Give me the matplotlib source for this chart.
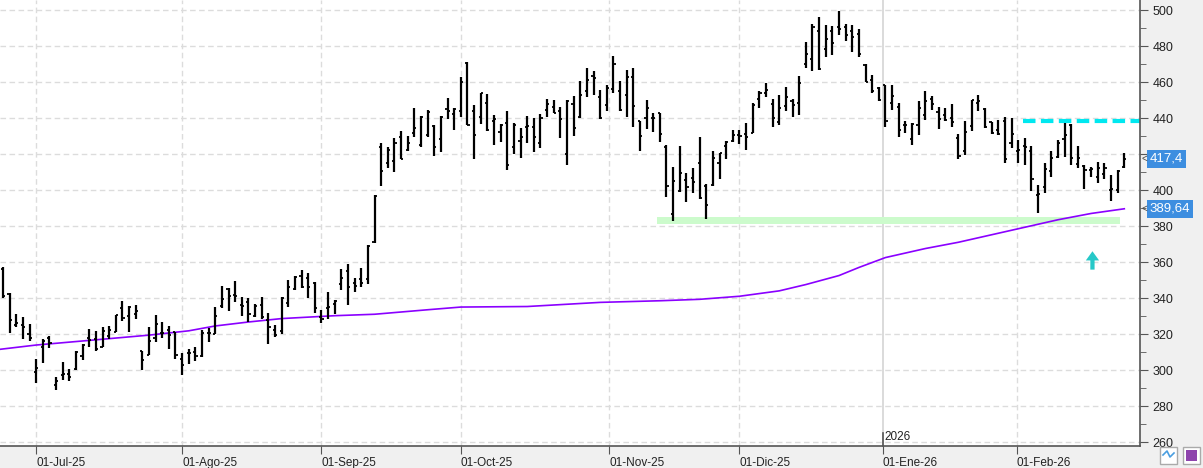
import matplotlib
matplotlib.use('Agg')
import matplotlib.pyplot as plt
from matplotlib.patches import Rectangle, Polygon
import numpy as np

# daily OHLC, one entry per bar (bar 1 = late June 2025 ... bar 170 = late Feb 2026)
opens = [356, 342, 325, 325, 320, 299, 313, 318, 291.5, 297, 297.6, 300.4, 308, 317.6, 317, 312.6, 319, 321.3, 334.4, 329.8,
         331, 310.6, 308.5, 318, 320.4, 322, 321, 306, 309.3, 310, 308, 320.4, 320, 335.6, 345, 341.7, 336, 337.8, 330, 336,
         327.8, 322, 321.5, 337, 345, 352.2, 350.9, 348.5, 329.3, 334.6, 336.5, 348, 355.2, 348.5, 350.4, 350.4, 371, 423.7, 414.8, 416,
         429.3, 422.2, 431.5, 425.2, 430.4, 435.6, 428.1, 444.8, 442.2, 444.1, 470.4, 443.7, 440.7, 448.1, 438.1, 432, 437, 423.7, 427.4, 435.2,
         434.8, 425.9, 444.3, 446.1, 443.9, 420, 447.6, 440.4, 454.8, 463.3, 451.5, 447, 456.3, 454.8, 452.8, 462.6, 438.3, 439.8, 439.8, 443,
         424.1, 386.7, 399.4, 405.6, 406.8, 414.8, 402.2, 402.8, 414.8, 424.4, 427.2, 430.6, 431.1, 431.9, 450.4, 453.7, 447.6, 437.8, 446.7, 449.3,
         448.2, 469.8, 472.8, 488.5, 478.2, 488.5, 490.4, 490.4, 488.5, 486.5, 469.5, 461.1, 456.5, 458.2, 448.2, 445.9, 436.1, 428.5, 435.9, 441.5,
         450.4, 443.3, 441.5, 440.2, 429.1, 421.5, 435.6, 448.1, 445.2, 437.6, 433.3, 438.1, 425.9, 421.8, 424.4, 421.7, 397.2, 401.5, 410.6, 418.1,
         428.1, 436.1, 414.4, 413.3, 411.1, 407.4, 408.9, 400, 400, 412.6]
highs = [357, 343, 331, 329.3, 325.6, 306, 317, 319, 296.3, 304.3, 300.6, 310.6, 314.3, 322.6, 321.7, 323.9, 324.3, 330.7, 338.3, 335.6,
         336, 310.6, 323.7, 330.4, 326.7, 324.4, 321.1, 309.3, 311.9, 313, 322.2, 323.1, 335.2, 346.7, 345.6, 349.6, 340.6, 339.8, 336.7, 340.6,
         331.9, 325, 340.6, 350, 352.2, 355.6, 353.7, 348.9, 333.3, 343.3, 338.9, 355.9, 358.9, 350.9, 356.5, 369.4, 397.2, 426, 423.7, 428.7,
         432.8, 430, 445.6, 441.1, 444.4, 436.1, 441.1, 451.1, 445.6, 462.6, 471.1, 447, 454.1, 453.3, 441.5, 436.7, 444.1, 437, 434.4, 441.1,
         440, 442.2, 450.4, 450, 446.3, 450, 452.2, 460.6, 467.8, 466.1, 455.6, 458.5, 474.6, 460.6, 466.7, 467.6, 438.3, 450, 443, 443,
         424.8, 413, 424.4, 409.3, 412.4, 429.4, 403.3, 421.7, 420.7, 427.2, 433.3, 433.3, 437, 448.2, 455.2, 459.3, 450.4, 452.6, 457, 450.4,
         463.3, 482.2, 492.2, 496.3, 491.7, 491.1, 499.4, 492.2, 491.7, 489.3, 469.8, 463.7, 457, 458.5, 458.3, 448.5, 438.5, 437, 449.3, 455.2,
         452.2, 445.9, 445.7, 447.8, 430.9, 438.3, 450, 452.8, 445.6, 438, 438.9, 440.7, 440.2, 427.8, 428.9, 424.4, 402.6, 414.8, 421.9, 427.8,
         437, 436.7, 424.4, 413.9, 412.6, 415.7, 414.8, 408.3, 411.1, 420.7]
lows = [340, 320.5, 323.7, 317.4, 316.3, 293, 303.7, 312.4, 288.7, 294.4, 293.7, 300, 305.7, 312.6, 310.4, 312.6, 317, 321.3, 327, 321.3,
        328.5, 300, 308.2, 315.7, 318, 311.5, 305.9, 297.4, 303.1, 305, 307, 315.7, 320, 334.3, 333, 338, 330.2, 326.9, 329.6, 328.1,
        314.4, 318.5, 319.8, 335.2, 344.4, 345.7, 340.2, 331.9, 325.9, 328.5, 331.1, 344.4, 336.3, 343.5, 345.9, 347.6, 370.5, 402.4, 412, 409.8,
        417, 421.9, 429.3, 424.1, 429.3, 419.1, 421.3, 439.6, 433.1, 440.7, 435.9, 417, 436.7, 432.8, 425.2, 426.5, 411.1, 419.8, 418, 426.3,
        421.1, 423.5, 440.7, 442.6, 429.1, 414.1, 430.2, 439.8, 451.9, 452.9, 439.6, 444.1, 454.1, 444.1, 440.7, 435.2, 421.8, 433.7, 432.4, 426.9,
        396.3, 383, 399.1, 393.5, 398.5, 394.8, 384.1, 402.4, 406.3, 417, 426.7, 425.4, 422.2, 431.5, 445.7, 451.9, 435.2, 436, 443.7, 440.7,
        441.7, 467.8, 466.3, 466.7, 473.7, 475.2, 485.9, 482.8, 476.9, 474.1, 459.8, 454.1, 449.6, 435.2, 444.4, 429.3, 431.5, 424.8, 430.7, 438.9,
        444.4, 433.9, 438.1, 435.2, 417.4, 419.6, 433, 444.1, 434.6, 430.9, 430.6, 414.8, 423.2, 414.8, 413.7, 399.3, 387.4, 398.1, 407.4, 417.6,
        418.5, 413.9, 412, 400.7, 407.4, 404.1, 405.9, 394.1, 398.1, 412.2]
closes = [341, 328, 326, 324, 318, 301, 316, 315, 294, 298, 296, 310, 314, 316.7, 311.5, 321.7, 322, 330.4, 329, 334.8,
          333, 305.6, 316.3, 325.6, 320.7, 319.3, 308.2, 302.6, 309.3, 308, 320.4, 320.4, 330, 339.6, 341.1, 341.1, 335.6, 331.1, 335.6, 329.6,
          324, 319.4, 340.2, 346.3, 351.9, 345.9, 345.9, 334.4, 328.5, 334.8, 338.3, 350.9, 346.3, 346.9, 348.1, 368.9, 396.8, 410.4, 422.2, 426,
          417.5, 426, 434.3, 440.4, 443.5, 423.7, 440.7, 443.7, 445.2, 460, 436.3, 430.4, 453.7, 433.1, 439.3, 436.1, 413.7, 435.9, 429.3, 435.4,
          429.3, 439.8, 447.8, 443, 439.3, 449.4, 434.3, 452.6, 461.1, 462, 440.2, 456.8, 470, 444.4, 462.6, 446.7, 430, 445.4, 439.8, 431,
          402.2, 405, 409.3, 401.5, 404.3, 395.4, 391.7, 418, 420.4, 426.9, 430.4, 430.2, 429.3, 447.2, 454, 455.6, 439.8, 445.4, 451.9, 447.2,
          459.3, 475.6, 490.4, 467, 483.7, 481.5, 489.4, 485.9, 484.8, 475.4, 460, 455, 450, 438.2, 452.2, 433.3, 436.1, 436.7, 445.4, 449.4,
          447.6, 439.4, 438.9, 437.6, 418.7, 432.2, 449.9, 449.3, 435.2, 431.5, 431.1, 417, 431.1, 422.2, 424.1, 405.9, 397.8, 411.7, 417.6, 425.9,
          430.6, 417.6, 417.6, 411.1, 411.5, 412, 412, 400.4, 410.6, 417.4]

# long moving average, read at a few bars
ma_bar = [0.5, 6, 15, 23, 29, 33, 38, 43, 51, 57, 65, 70, 80, 91, 100, 106, 112, 118, 122, 127, 130, 134, 140, 145, 154, 160, 165, 170]
ma_val = [311.5, 313.9, 316.8, 319.4, 321.8, 324.5, 326.7, 328.6, 330.2, 331.0, 333.5, 335.0, 335.3, 337.6, 338.5, 339.3, 341.0, 344.0,
          347.5, 352.5, 357.0, 362.5, 367.5, 371.0, 378.5, 383.5, 387.0, 389.6]

# month ticks (bar positions; weekend month starts fall between bars)
month_pos = [6, 28, 49, 70, 92.4, 112, 133.6, 153.8]
month_lbl = ['01-Jul-25', '01-Ago-25', '01-Sep-25', '01-Oct-25', '01-Nov-25', '01-Dic-25', '01-Ene-26', '01-Feb-26']

price_ticks = list(range(260, 501, 20))
price_lbl = ['260', '280', '300', '320', '340', '360', '380', '400', '', '440', '460', '480', '500']  # 420 hidden under the last-price box

support = (381.2, 385.2)   # green band
support_bars = (99.6, 169.3)
resist = 438.1             # cyan dashed line
resist_bars = (154.8, 172.5)
arrow_bar = 165.2
arrow_lo, arrow_hi = 355.8, 366.0
last_close = 417.4
last_ma = 389.64

plt.rcParams['font.family'] = ['Liberation Sans', 'DejaVu Sans']

fig = plt.figure(figsize=(12.03, 4.68), dpi=100, facecolor='#f0f0f0')
ax = fig.add_axes([0, 0.047, 0.9476, 0.953])
ax.set_facecolor('white')

x = np.arange(1, len(opens) + 1)
ax.set_xlim(0.55, 172.36)
ax.set_ylim(257.8, 505.6)

# grid
for yv in price_ticks:
    ax.axhline(yv, color='#dcdcdc', lw=1, ls=(0, (4, 2.5)), zorder=0)
for i, p in enumerate(month_pos):
    if month_lbl[i].startswith('01-Ene'):
        ax.axvline(p, color='#d4d4d4', lw=1.2, zorder=0)
    else:
        ax.axvline(p, color='#dcdcdc', lw=1, ls=(0, (4, 2.5)), zorder=0)

# support band and resistance
ax.fill_between(support_bars, support[0], support[1], color='#ccfbcc', lw=0, zorder=1)
ax.hlines(resist, resist_bars[0], resist_bars[1], color='#00e8f0', lw=3, ls=(0, (3, 1.3)), zorder=2)

# moving average
ax.plot(ma_bar, ma_val, color='#8a00ff', lw=1.2, zorder=3)

# OHLC bars
tk = 0.32
ax.vlines(x, lows, highs, color='black', lw=1.6, zorder=4)
ax.hlines(opens, x - tk, x, color='black', lw=1.3, zorder=4)
ax.hlines(closes, x, x + tk, color='black', lw=1.3, zorder=4)

# up arrow
hw, sw = 1.0, 0.32                      # half widths in bars
hh = (arrow_hi - arrow_lo) * 0.5        # head height
arrow = Polygon([(arrow_bar, arrow_hi), (arrow_bar + hw, arrow_hi - hh), (arrow_bar + sw, arrow_hi - hh),
                 (arrow_bar + sw, arrow_lo), (arrow_bar - sw, arrow_lo), (arrow_bar - sw, arrow_hi - hh),
                 (arrow_bar - hw, arrow_hi - hh)], closed=True, fc='#26c8c8', ec='none', zorder=5)
ax.add_patch(arrow)

# axes styling
for s in ['top', 'left']:
    ax.spines[s].set_visible(False)
for s in ['right', 'bottom']:
    ax.spines[s].set_color('#555555')
    ax.spines[s].set_linewidth(1.2)

ax.yaxis.tick_right()
ax.set_yticks(price_ticks, labels=price_lbl)
ax.set_yticks(range(270, 501, 20), minor=True)
ax.tick_params(axis='y', which='major', length=6, color='#555555', labelsize=9, labelcolor='#222222', pad=3)
ax.tick_params(axis='y', which='minor', length=4, color='#555555')

ax.set_xticks(month_pos, labels=month_lbl)
ax.tick_params(axis='x', length=6, color='#555555', labelsize=8.5, labelcolor='#222222', pad=2)
for lab in ax.get_xticklabels():
    lab.set_horizontalalignment('left')

# year marker
jan = month_pos[6]
ax.plot([jan, jan], [0, 0.03], transform=ax.get_xaxis_transform(), color='#555555', lw=1.2, clip_on=False, zorder=6)
ax.annotate('2026', xy=(jan, 0), xycoords=('data', 'axes fraction'), xytext=(1.5, 2),
            textcoords='offset points', fontsize=8.5, color='#222222', ha='left', va='bottom')

# last value labels
for val, txt in [(last_close, '417,4'), (last_ma, '389,64')]:
    ax.annotate(txt, xy=(1, val), xycoords=('axes fraction', 'data'), xytext=(7, 0),
                textcoords='offset points', fontsize=9.5, color='white', ha='left', va='center',
                bbox=dict(boxstyle='square,pad=0.22', fc='#3d8ee0', ec='none'), annotation_clip=False)
    ax.annotate('<', xy=(1, val), xycoords=('axes fraction', 'data'), xytext=(1, 0),
                textcoords='offset points', fontsize=7, color='#444444', ha='left', va='center',
                annotation_clip=False)

# small toolbar icons bottom right
fig.patches.append(Rectangle((1160 / 1203, 4 / 468), 17 / 1203, 17 / 468, transform=fig.transFigure,
                             fc='white', ec='#aaaaaa', lw=1))
fig.patches.append(Rectangle((1183 / 1203, 4 / 468), 17 / 1203, 17 / 468, transform=fig.transFigure,
                             fc='white', ec='#aaaaaa', lw=1))
fig.patches.append(Rectangle((1186 / 1203, 7 / 468), 11 / 1203, 11 / 468, transform=fig.transFigure,
                             fc='#8e44ad', ec='none'))
fig.lines.append(plt.Line2D([1163 / 1203, 1167 / 1203, 1170 / 1203, 1174 / 1203],
                            [13 / 468, 17 / 468, 11 / 468, 15 / 468], transform=fig.transFigure,
                            color='#4a9ee0', lw=1.2))

fig.savefig('out.png', dpi=100, facecolor=fig.get_facecolor())
